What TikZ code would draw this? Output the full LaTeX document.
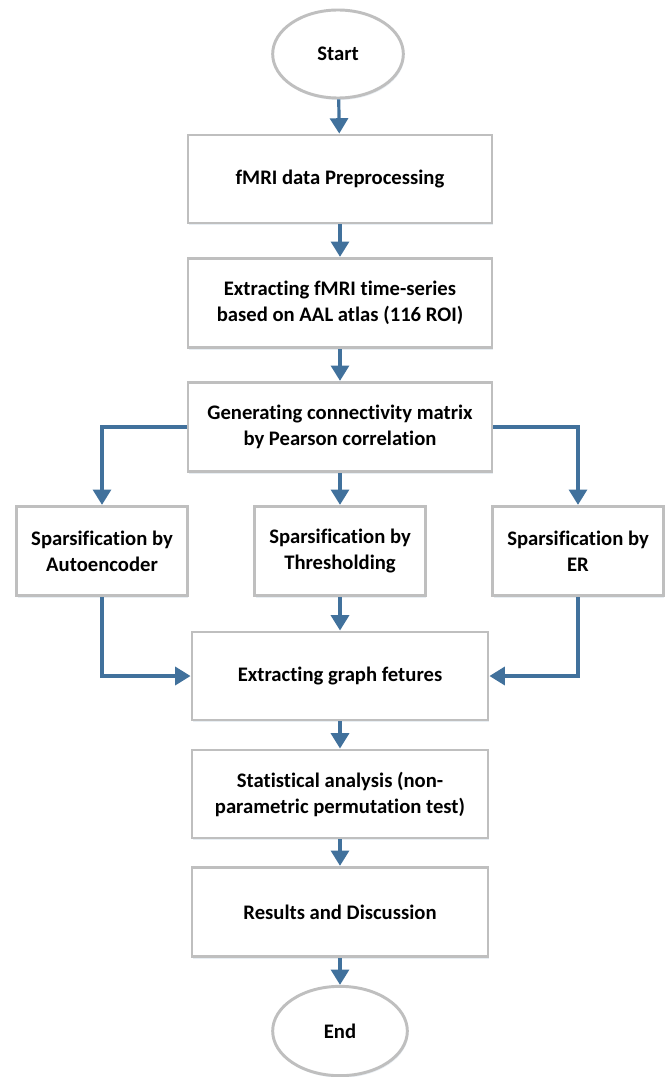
\documentclass[tikz,border=0pt]{standalone}
\usepackage{fontspec}
\setmainfont{Carlito}[Ligatures=NoCommon]
\usetikzlibrary{shapes.geometric,arrows.meta,shadows}

\definecolor{flowblue}{RGB}{65,113,156}
\definecolor{boxgray}{RGB}{191,191,191}

\tikzset{
  procbox/.style={draw=boxgray, line width=2.2pt, fill=white, align=center,
    font=\fontsize{15.5}{19.5}\selectfont\bfseries,
    drop shadow={shadow xshift=0.8pt, shadow yshift=-1.5pt, opacity=.2, fill=flowblue!60}},
  termnode/.style={procbox, ellipse, inner sep=0pt},
  flowarrow/.style={draw=flowblue, line width=2.4pt,
    -{Triangle[width=13.5pt,length=11.5pt]}}
}

\begin{document}
\begin{tikzpicture}[x=0.75pt, y=-0.75pt]
  \useasboundingbox (0,0) rectangle (669,1077);
  % Main column
  \node[termnode, minimum width=98pt, minimum height=66pt] (start) at (338,54) {Start};
  \node[procbox, minimum width=228pt, minimum height=66pt] (prep) at (340,179) {fMRI data Preprocessing};
  \node[procbox, minimum width=228pt, minimum height=67pt] (series) at (340,303) {Extracting fMRI time-series\\based on AAL atlas (116 ROI)};
  \node[procbox, minimum width=228pt, minimum height=67pt] (conn) at (340,427) {Generating connectivity matrix\\by Pearson correlation};
  % Three sparsification methods
  \node[procbox, minimum width=128pt, minimum height=67pt] (auto) at (102,551) {Sparsification by\\Autoencoder};
  \node[procbox, minimum width=128pt, minimum height=67pt] (thresh) at (340,551) {Sparsification by\\Thresholding};
  \node[procbox, minimum width=128pt, minimum height=67pt] (er) at (578,551) {Sparsification by\\ER};
  % Rest of the column
  \node[procbox, minimum width=222pt, minimum height=66pt] (feat) at (340,676) {Extracting graph fetures};
  \node[procbox, minimum width=222pt, minimum height=66pt] (stat) at (340,794) {Statistical analysis (non-\\parametric permutation test)};
  \node[procbox, minimum width=222pt, minimum height=67pt] (res) at (340,912) {Results and Discussion};
  \node[termnode, minimum width=101pt, minimum height=67pt] (end) at (340,1031) {End};
  % Arrows
  \draw[flowarrow] (start) -- (prep);
  \draw[flowarrow] (prep) -- (series);
  \draw[flowarrow] (series) -- (conn);
  \draw[flowarrow] (conn.west) -| (auto.north);
  \draw[flowarrow] (conn) -- (thresh);
  \draw[flowarrow] (conn.east) -| (er.north);
  \draw[flowarrow] (auto.south) |- (feat.west);
  \draw[flowarrow] (thresh) -- (feat);
  \draw[flowarrow] (er.south) |- (feat.east);
  \draw[flowarrow] (feat) -- (stat);
  \draw[flowarrow] (stat) -- (res);
  \draw[flowarrow] (res) -- (end);
\end{tikzpicture}
\end{document}
